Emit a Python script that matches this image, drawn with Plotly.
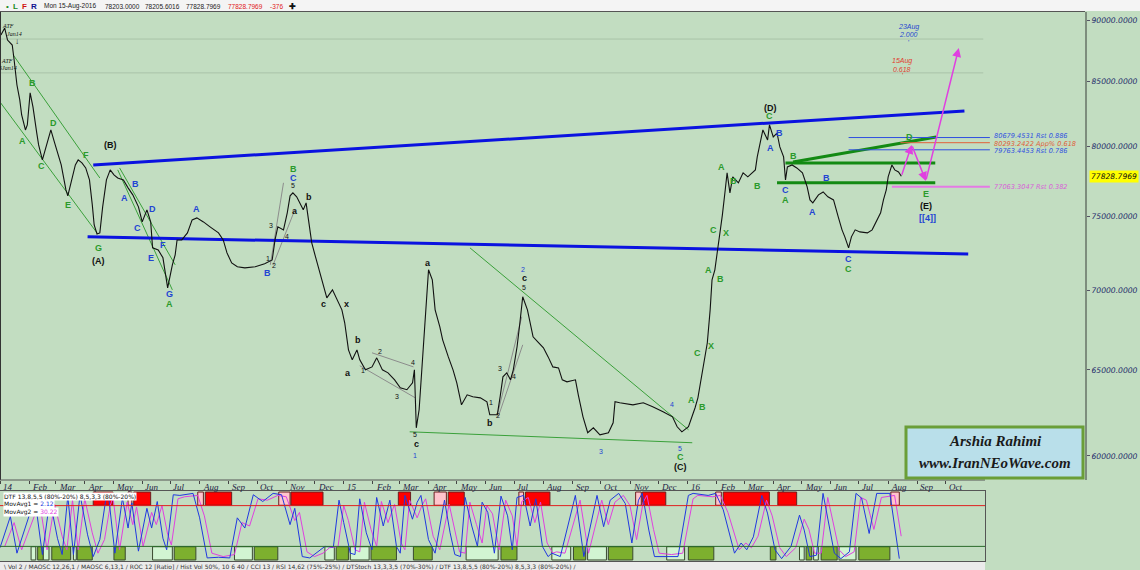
import math
import plotly.graph_objects as go

W, H = 1140, 570

# ---------------- price data (TEDPIX, daily closes) ----------------
price_dates = [
"2014-01-02","2014-01-06","2014-01-09","2014-01-14","2014-01-16","2014-01-19","2014-01-22","2014-01-24","2014-01-28","2014-01-30",
"2014-02-02","2014-02-05","2014-02-09","2014-02-11","2014-02-15","2014-02-18","2014-02-20","2014-02-24","2014-02-28","2014-03-04",
"2014-03-07","2014-03-09","2014-03-12","2014-03-14","2014-03-18","2014-03-22","2014-03-25","2014-03-29","2014-04-02","2014-04-06",
"2014-04-09","2014-04-11","2014-04-14","2014-04-17","2014-04-20","2014-04-24","2014-04-28","2014-05-02","2014-05-06","2014-05-12",
"2014-05-17","2014-05-22","2014-05-28","2014-06-01","2014-06-06","2014-06-10","2014-06-12","2014-06-18","2014-06-23","2014-06-28",
"2014-07-03","2014-07-06","2014-07-08","2014-07-13","2014-07-19","2014-07-24","2014-07-29","2014-08-05","2014-08-12","2014-08-21",
"2014-08-26","2014-08-30","2014-09-04","2014-09-10","2014-09-18","2014-09-29","2014-10-09","2014-10-17","2014-10-20","2014-10-23",
"2014-10-29","2014-11-02","2014-11-05","2014-11-08","2014-11-12","2014-11-16","2014-11-19","2014-11-22","2014-11-25","2014-11-28",
"2014-12-02","2014-12-05","2014-12-10","2014-12-14","2014-12-20","2014-12-25","2014-12-30",
"2015-01-02","2015-01-06","2015-01-10","2015-01-15","2015-01-18","2015-01-24","2015-01-31","2015-02-05","2015-02-11","2015-02-17",
"2015-02-24","2015-03-02","2015-03-09","2015-03-15","2015-03-17","2015-03-19","2015-03-22","2015-03-25","2015-03-28","2015-04-01",
"2015-04-05","2015-04-08","2015-04-13","2015-04-16","2015-04-22","2015-04-27","2015-05-01","2015-05-06","2015-05-12","2015-05-18",
"2015-05-26","2015-06-02","2015-06-05","2015-06-13","2015-06-16","2015-06-19","2015-06-23","2015-06-27","2015-06-30","2015-07-04",
"2015-07-07","2015-07-10","2015-07-15","2015-07-18","2015-07-21","2015-07-26","2015-08-01","2015-08-06","2015-08-11","2015-08-17",
"2015-08-21","2015-08-26","2015-09-04","2015-09-07","2015-09-12","2015-09-17","2015-09-23","2015-09-30","2015-10-09","2015-10-14",
"2015-10-16","2015-10-21","2015-11-04","2015-11-15","2015-11-25","2015-12-06","2015-12-16","2015-12-21","2015-12-26",
"2016-01-02","2016-01-06","2016-01-09","2016-01-12","2016-01-14","2016-01-18","2016-01-22","2016-01-25","2016-01-27","2016-01-30",
"2016-02-03","2016-02-07","2016-02-10","2016-02-12","2016-02-15","2016-02-18","2016-02-24","2016-02-29","2016-03-05","2016-03-13",
"2016-03-15","2016-03-18","2016-03-21","2016-03-26","2016-03-28","2016-04-01","2016-04-05","2016-04-08","2016-04-12","2016-04-14",
"2016-04-16","2016-04-21","2016-04-26","2016-05-02","2016-05-07","2016-05-10","2016-05-13","2016-05-19","2016-05-24","2016-05-29",
"2016-06-04","2016-06-09","2016-06-13","2016-06-16","2016-06-20","2016-06-23","2016-06-27","2016-07-02","2016-07-10","2016-07-15",
"2016-07-19","2016-07-24","2016-07-27","2016-07-30","2016-08-01","2016-08-05","2016-08-08","2016-08-12","2016-08-15"]
price_values = [
88750,89330,88340,87930,86710,84720,83550,82390,81250,81630,
84100,83010,81030,80130,79020,79750,80280,81250,80280,79240,
78650,77920,76840,76420,77560,78650,79020,78800,78430,77560,
75780,74380,73760,73830,75640,77560,78290,77920,77700,77560,
76990,76490,75640,74590,75430,74590,72810,72670,72140,70150,
71670,72340,73350,73350,73830,74730,74870,74590,74250,73830,
73350,72470,71800,71540,71470,71540,71740,72000,73350,74250,
74040,75220,76420,76630,76350,75780,75430,75920,74380,73150,
72200,71540,70480,69500,70020,69370,68730,
67910,66220,65610,66220,65610,65000,65180,65730,65000,64820,
64400,63920,63810,64220,65000,61590,62630,65000,67650,71340,
70680,68730,67650,66840,65790,65000,64220,62920,63510,63390,
63330,63100,62340,62340,63390,64580,64820,64400,65000,66410,
67910,69570,68730,67910,67030,66720,66350,65790,65180,65120,
64400,64280,64400,63510,62220,61310,61590,61190,61310,61880,
63100,63040,62920,63040,62810,62510,62220,61650,61360,
61650,62220,62750,63330,63980,65430,66660,68730,70680,71340,
73150,75080,76840,78070,76630,77780,77350,78070,77780,78290,
79240,80280,81250,80500,81630,80720,81020,79980,79240,77560,
78500,78650,78430,78070,77060,76130,75920,76490,76700,76350,
76130,74940,74040,73560,72810,73560,74040,73900,73830,74040,
74520,75220,76130,76840,77780,78650,78290,78140,77828.7969]
last_price = 77828.7969

# ---------------- drawn trend / channel lines (date, price pairs) ----------------
upper_blue_dates = ["2014-04-10", "2016-10-21"]
upper_blue_vals = [78650, 82700]
lower_blue_dates = ["2014-04-04", "2016-10-25"]
lower_blue_vals = [73560, 72400]

thin_green_dates = [["2014-01-01", "2014-04-14"], ["2014-01-15", "2014-04-17"],
                    ["2014-05-06", "2014-07-03"], ["2014-05-08", "2014-07-06"],
                    ["2015-05-15", "2016-01-02"], ["2015-03-12", "2016-01-06"]]
thin_green_vals = [[83390, 73830], [87120, 77700], [78290, 70020], [78430, 71670],
                   [72810, 61480], [61360, 60740]]

thin_gray_dates = [["2014-10-15", "2014-10-29"], ["2014-10-18", "2014-11-10"],
                   ["2015-01-18", "2015-03-18"], ["2015-01-31", "2015-03-16"],
                   ["2015-06-13", "2015-07-09"], ["2015-06-14", "2015-07-10"]]
thin_gray_vals = [[71670, 77350], [71670, 75430], [65250, 63330], [66040, 65180],
                  [62340, 68290], [62220, 66530]]

thick_green_dates = [["2016-04-14", "2016-09-20"], ["2016-04-05", "2016-09-20"], ["2016-04-22", "2016-09-21"]]
thick_green_vals = [[78800, 78800], [77350, 77350], [78870, 80720]]

fib_levels = [80679.4531, 80293.2422, 79763.4453, 77063.3047]
fib_tags = ["Rst 0.886", "App% 0.618", "Rst 0.786", "Rst 0.382"]
fib_start = ["2016-06-20", "2016-08-14", "2016-06-20", "2016-08-05"]
fib_end = "2016-11-17"
fib_colors = ["#2f4fe0", "#e0603a", "#2f4fe0", "#e47ae4"]
fib_label_nudge = [2, -1, -1, 0]

target_levels = [88420, 85680]
target_dates = ["2014-01-01", "2016-11-10"]

proj_dates = ["2016-08-15", "2016-08-26", "2016-09-10", "2016-10-15"]
proj_vals = [77828.7969, 80130, 77490, 87690]

# ---------------- oscillator (DTF) ----------------
osc_fast_dates = [
"2014-01-01","2014-01-12","2014-01-19","2014-02-07","2014-02-15","2014-02-23","2014-03-03","2014-03-08","2014-03-14","2014-03-20",
"2014-03-27","2014-04-04","2014-04-10","2014-04-17","2014-04-23","2014-04-26","2014-05-03","2014-05-11","2014-05-17","2014-05-21",
"2014-05-28","2014-06-06","2014-06-11","2014-06-17","2014-06-23","2014-06-27","2014-07-04","2014-07-11","2014-07-25","2014-08-01",
"2014-08-09","2014-08-21","2014-09-02","2014-09-10","2014-09-18","2014-09-27","2014-10-07","2014-10-18","2014-10-27","2014-11-05",
"2014-11-10","2014-11-18","2014-11-26","2014-12-05","2014-12-12","2014-12-21","2014-12-27","2015-01-01","2015-01-08","2015-01-13",
"2015-01-18","2015-01-25","2015-01-31","2015-02-05","2015-02-12","2015-02-19","2015-02-26","2015-03-02","2015-03-07","2015-03-15",
"2015-03-20","2015-03-24","2015-04-01","2015-04-08","2015-04-18","2015-04-24","2015-04-29","2015-05-05","2015-05-10","2015-05-17",
"2015-05-23","2015-05-28","2015-06-03","2015-06-10","2015-06-17","2015-06-24","2015-06-29","2015-07-04","2015-07-11","2015-07-18",
"2015-07-24","2015-07-31","2015-08-06","2015-08-10","2015-08-19","2015-09-04","2015-09-13","2015-09-27","2015-10-04","2015-10-11",
"2015-10-20","2015-10-27","2015-11-03","2015-11-10","2015-11-14","2015-11-21","2015-11-27","2015-12-10","2015-12-22","2016-01-02",
"2016-01-07","2016-01-23","2016-01-31","2016-02-08","2016-02-20","2016-02-27","2016-03-04","2016-03-11","2016-03-20","2016-03-26",
"2016-04-03","2016-04-10","2016-04-20","2016-04-29","2016-05-04","2016-05-10","2016-05-17","2016-05-24","2016-06-05","2016-06-12",
"2016-06-21","2016-06-28","2016-07-04","2016-07-12","2016-07-20","2016-08-03","2016-08-08","2016-08-13"]
osc_fast_vals = [
18,64,10,91,8,89,32,8,94,8,
96,37,5,30,86,98,10,91,47,84,
13,76,47,86,32,15,96,95,98,62,
3,4,3,62,47,96,86,98,96,52,
76,5,3,12,20,19,88,55,10,8,
90,40,15,92,50,88,20,10,95,60,
85,95,30,10,88,40,8,5,92,50,
20,85,70,10,94,65,15,92,95,50,
90,20,5,10,5,95,5,95,49,88,
98,83,25,88,98,44,5,5,5,95,
98,95,98,74,10,25,15,34,95,69,
15,2,20,66,44,5,7,98,10,2,
12,98,91,39,98,98,52,2]

osc_slow_dates = [
"2014-01-06","2014-01-16","2014-01-24","2014-02-12","2014-02-20","2014-02-28","2014-03-08","2014-03-13","2014-03-19","2014-03-25",
"2014-04-01","2014-04-09","2014-04-15","2014-04-22","2014-04-28","2014-05-01","2014-05-08","2014-05-16","2014-05-22","2014-05-26",
"2014-06-02","2014-06-11","2014-06-16","2014-06-22","2014-06-28","2014-07-02","2014-07-09","2014-07-16","2014-07-30","2014-08-06",
"2014-08-14","2014-08-26","2014-09-07","2014-09-15","2014-09-23","2014-10-02","2014-10-12","2014-10-23","2014-11-01","2014-11-10",
"2014-11-15","2014-11-23","2014-12-01","2014-12-10","2014-12-17","2014-12-26","2015-01-01","2015-01-06","2015-01-13","2015-01-18",
"2015-01-23","2015-01-30","2015-02-05","2015-02-10","2015-02-17","2015-02-24","2015-03-03","2015-03-07","2015-03-12","2015-03-20",
"2015-03-25","2015-03-29","2015-04-06","2015-04-13","2015-04-23","2015-04-29","2015-05-04","2015-05-10","2015-05-15","2015-05-22",
"2015-05-28","2015-06-02","2015-06-08","2015-06-15","2015-06-22","2015-06-29","2015-07-04","2015-07-09","2015-07-16","2015-07-23",
"2015-07-29","2015-08-05","2015-08-11","2015-08-15","2015-08-24","2015-09-09","2015-09-18","2015-10-02","2015-10-09","2015-10-16",
"2015-10-25","2015-11-01","2015-11-08","2015-11-15","2015-11-19","2015-11-26","2015-12-02","2015-12-15","2015-12-27","2016-01-07",
"2016-01-12","2016-01-28","2016-02-05","2016-02-13","2016-02-25","2016-03-03","2016-03-09","2016-03-16","2016-03-25","2016-03-31",
"2016-04-08","2016-04-15","2016-04-25","2016-05-04","2016-05-09","2016-05-15","2016-05-22","2016-05-29","2016-06-10","2016-06-17",
"2016-06-26","2016-07-03","2016-07-09","2016-07-17","2016-07-25","2016-08-08","2016-08-13","2016-08-15"]
osc_slow_vals = [
20,55,15,85,15,82,35,15,88,15,
90,40,10,30,80,92,15,85,52,78,
20,70,52,80,38,22,90,93,95,65,
10,5,8,55,50,90,88,95,93,58,
70,12,5,10,18,20,80,58,15,12,
85,45,20,86,55,82,25,15,88,62,
80,90,35,15,82,45,12,10,85,52,
25,80,68,15,88,65,20,86,92,55,
85,25,10,12,10,88,10,88,52,85,
95,80,30,85,95,45,10,8,10,90,
95,93,95,70,15,25,18,35,88,65,
18,5,18,60,45,10,10,92,15,5,
12,92,88,45,92,95,55,35]

top_bar_start = ["2014-04-10","2014-05-17","2014-05-23","2014-07-30","2014-08-07","2014-10-24","2014-11-06","2015-02-28","2015-04-07",
                 "2015-04-22","2015-07-06","2015-07-13","2015-11-07","2015-11-14","2016-01-31","2016-02-08","2016-04-06","2016-08-04"]
top_bar_end = ["2014-05-01","2014-05-21","2014-06-10","2014-08-05","2014-09-04","2014-11-05","2014-12-10","2015-03-13","2015-04-20",
               "2015-05-09","2015-07-11","2015-08-08","2015-11-13","2015-12-09","2016-02-06","2016-03-28","2016-04-26","2016-08-13"]
top_bar_kind = ["R","P","R","P","R","P","R","R","P","R","P","R","P","R","P","R","R","P"]

bot_bar_start = ["2014-02-03","2014-02-10","2014-02-16","2014-02-25","2014-03-20","2014-03-24","2014-05-02","2014-06-12","2014-07-05",
                 "2014-09-07","2014-09-28","2014-12-12","2014-12-24","2015-01-08","2015-01-30","2015-03-16","2015-05-11","2015-06-17",
                 "2015-08-10","2015-09-02","2015-09-17","2015-10-09","2015-12-10","2016-01-02","2016-03-29","2016-04-29","2016-05-06",
                 "2016-05-14","2016-05-22","2016-06-10","2016-07-01"]
bot_bar_end = ["2014-02-08","2014-02-16","2014-02-22","2014-03-17","2014-03-23","2014-04-09","2014-05-14","2014-07-03","2014-07-28",
               "2014-09-26","2014-10-23","2014-12-22","2015-01-06","2015-01-28","2015-02-26","2015-04-05","2015-06-14","2015-07-04",
               "2015-08-30","2015-09-15","2015-10-07","2015-11-04","2015-12-29","2016-01-29","2016-04-04","2016-05-04","2016-05-12",
               "2016-05-19","2016-06-08","2016-06-28","2016-08-03"]
bot_bar_kind = ["L","G","L","G","L","G","G","L","G","L","G","L","G","L","G","G","L","G","L","G","L","G","L","G","G","L","G","L","G","L","G"]

# ---------------- axis ticks ----------------
month_starts = ["2014-01-01","2014-02-01","2014-03-01","2014-04-01","2014-05-01","2014-06-01","2014-07-01","2014-08-01","2014-09-01",
                "2014-10-01","2014-11-01","2014-12-01","2015-01-01","2015-02-01","2015-03-01","2015-04-01","2015-05-01","2015-06-01",
                "2015-07-01","2015-08-01","2015-09-01","2015-10-01","2015-11-01","2015-12-01","2016-01-01","2016-02-01","2016-03-01",
                "2016-04-01","2016-05-01","2016-06-01","2016-07-01","2016-08-01","2016-09-01","2016-10-01"]
month_labels = ["14","Feb","Mar","Apr","May","Jun","Jul","Aug","Sep","Oct","Nov","Dec",
                "15","Feb","Mar","Apr","May","Jun","Jul","Aug","Sep","Oct","Nov","Dec",
                "16","Feb","Mar","Apr","May","Jun","Jul","Aug","Sep","Oct"]
price_ticks = [60000, 65000, 70000, 75000, 80000, 85000, 90000]

# ---------------- colours ----------------
BG = "#c2ddc1"
GREEN_T = "#2b9a2b"
BLUE_T = "#2244d4"
BLACK_T = "#111111"


def px(x, y):
    return x / W, 1 - y / H


fig = go.Figure()


def add_line(dates, vals, color, width, xa="x", ya="y", dash="solid"):
    fig.add_trace(go.Scatter(x=dates, y=vals, mode="lines", xaxis=xa, yaxis=ya,
                             line=dict(color=color, width=width, dash=dash),
                             hoverinfo="skip", showlegend=False))


for lv in target_levels:
    add_line(target_dates, [lv, lv], "#a9c3a8", 1)
for d, v in zip(thin_green_dates, thin_green_vals):
    add_line(d, v, "#3aa03a", 1)
for d, v in zip(thin_gray_dates, thin_gray_vals):
    add_line(d, v, "#8c8c8c", 1)
add_line(upper_blue_dates, upper_blue_vals, "#0a12e0", 3)
add_line(lower_blue_dates, lower_blue_vals, "#0a12e0", 3)
for d, v in zip(thick_green_dates, thick_green_vals):
    add_line(d, v, "#138a13", 3)
for lv, st, c in zip(fib_levels, fib_start, fib_colors):
    add_line([st, fib_end], [lv, lv], c, 2 if c == "#e47ae4" else 1)

fig.add_trace(go.Scatter(x=price_dates, y=price_values, mode="lines",
                         line=dict(color="#111111", width=1.1), xaxis="x", yaxis="y",
                         hoverinfo="skip", showlegend=False))

add_line(osc_slow_dates, osc_slow_vals, "#e040e0", 1, "x2", "y2")
add_line(osc_fast_dates, osc_fast_vals, "#2038e0", 1, "x2", "y2")

shapes = []
for s, e, k in zip(top_bar_start, top_bar_end, top_bar_kind):
    shapes.append(dict(type="rect", xref="x2", yref="y2", x0=s, x1=e, y0=80.5, y1=100,
                       fillcolor="#ff0000" if k == "R" else "#ffc4cc",
                       line=dict(color="#6a2020", width=1), layer="below"))
for s, e, k in zip(bot_bar_start, bot_bar_end, bot_bar_kind):
    shapes.append(dict(type="rect", xref="x2", yref="y2", x0=s, x1=e, y0=0, y1=19.5,
                       fillcolor="#7db02e" if k == "G" else "#d2f5d2",
                       line=dict(color="#3a4a30", width=1), layer="below"))
shapes.append(dict(type="line", xref="x2 domain", yref="y2", x0=0, x1=1, y0=80, y1=80,
                   line=dict(color="#e02020", width=1)))
shapes.append(dict(type="line", xref="x2 domain", yref="y2", x0=0, x1=1, y0=20, y1=20,
                   line=dict(color="#2a6a2a", width=1)))

shapes.append(dict(type="rect", xref="paper", yref="paper", x0=0, x1=1, y0=1 - 11 / H, y1=1,
                   fillcolor="#f4f4f4", line=dict(width=0)))
shapes.append(dict(type="line", xref="paper", yref="paper", x0=0, x1=1085 / W, y0=1 - 11.5 / H, y1=1 - 11.5 / H,
                   line=dict(color="#555555", width=1)))
shapes.append(dict(type="line", xref="paper", yref="paper", x0=0.5 / W, x1=0.5 / W, y0=1 - 480 / H, y1=1 - 12 / H,
                   line=dict(color="#333333", width=1)))
shapes.append(dict(type="line", xref="paper", yref="paper", x0=0, x1=985 / W, y0=1 - 480 / H, y1=1 - 480 / H,
                   line=dict(color="#555555", width=1)))
shapes.append(dict(type="rect", xref="paper", yref="paper", x0=0, x1=985 / W, y0=0, y1=1 - 562 / H,
                   fillcolor="#ebebeb", line=dict(width=0)))
shapes.append(dict(type="rect", xref="paper", yref="paper", x0=906 / W, x1=1083 / W, y0=1 - 478 / H, y1=1 - 427 / H,
                   fillcolor="#b9dfea", line=dict(color="#6a9e38", width=3)))

ann = []


def label(x, y, text, color, size=9, bold=True, italic=False, family="Liberation Sans", anchor="center", bg=None):
    ax, ay = px(x, y)
    t = f"<b>{text}</b>" if bold else text
    d = dict(xref="paper", yref="paper", x=ax, y=ay, text=t, showarrow=False,
             font=dict(color=color, size=size, family=family, style="italic" if italic else "normal"),
             xanchor=anchor, yanchor="middle")
    if bg:
        d["bgcolor"] = bg
        d["borderpad"] = 0
    ann.append(d)


G, B, K = GREEN_T, BLUE_T, BLACK_T
wave_labels = [
    ("B", 32, 83, G), ("A", 22, 141, G), ("D", 53, 123, G), ("C", 41, 166, G), ("F", 86, 155, G), ("E", 68, 205, G), ("G", 98, 248, G),
    ("(B)", 110, 145, K), ("(A)", 98, 261, K),
    ("B", 135, 184, B), ("A", 124, 198, B), ("D", 152, 209, B), ("C", 137, 228, B), ("F", 163, 245, B), ("E", 151, 258, B),
    ("G", 169, 294, B), ("A", 169, 304, G), ("A", 196, 209, B),
    ("B", 293, 169, G), ("C", 293, 178, B), ("b", 309, 197, K), ("a", 295, 211, K), ("B", 267, 273, B),
    ("c", 323, 304, K), ("x", 346, 304, K), ("b", 358, 340, K), ("a", 348, 373, K), ("c", 416, 444, K), ("a", 428, 263, K),
    ("b", 490, 423, K), ("c", 524, 278, K),
    ("C", 680, 457, G), ("(C)", 680, 467, K),
    ("A", 691, 400, G), ("B", 702, 407, G), ("C", 697, 353, G), ("X", 711, 346, G), ("A", 708, 270, G), ("B", 720, 279, G),
    ("C", 714, 230, G), ("X", 726, 233, G), ("A", 721, 167, G), ("B", 733, 181, G), ("B", 757, 186, G),
    ("(D)", 770, 108, K), ("C", 769, 116, G), ("A", 770, 148, B), ("B", 779, 133, B),
    ("B", 793, 156, G), ("C", 785, 190, B), ("A", 785, 200, G), ("B", 826, 178, B), ("A", 812, 212, B),
    ("C", 848, 259, B), ("C", 848, 269, G), ("D", 909, 137, G), ("E", 926, 194, G), ("(E)", 926, 206, K), ("[[4]]", 927, 218, B),
]
for t, x, y, c in wave_labels:
    label(x, y, t, c, size=9)

small_labels = [
    ("5", 293, 185, K), ("3", 271, 225, K), ("4", 287, 237, K), ("1", 268, 258, K), ("2", 274, 265, K),
    ("2", 380, 351, K), ("1", 363, 370, K), ("3", 397, 396, K), ("4", 413, 362, K), ("5", 415, 434, K), ("1", 415, 455, B),
    ("1", 491, 402, K), ("3", 500, 368, K), ("4", 514, 377, K), ("2", 498, 415, K),
    ("2", 523, 269, B), ("5", 524, 287, K), ("3", 601, 451, B), ("4", 672, 404, B), ("5", 680, 448, B),
]
for t, x, y, c in small_labels:
    label(x, y, t, c, size=7, bold=False)

label(8, 26, "ATF", K, size=6, bold=False, italic=True, family="Liberation Serif")
label(14, 34, "Jan14", K, size=6, bold=False, italic=True, family="Liberation Serif")
label(17, 41, "↓", K, size=8, bold=True)
label(7, 61, "ATF", K, size=6, bold=False, italic=True, family="Liberation Serif")
label(8, 68, "6Jan14", K, size=6, bold=False, italic=True, family="Liberation Serif")

label(908, 27, "23Aug", "#2848d0", size=7, bold=False, italic=True)
label(908, 35, "2.000", "#2848d0", size=7, bold=False, italic=True)
label(908, 42, "'", "#2848d0", size=7, bold=False)
label(902, 61, "15Aug", "#e04030", size=7, bold=False, italic=True)
label(902, 69, "0.618", "#e04030", size=7, bold=False, italic=True)
label(902, 76, "'", "#e04030", size=7, bold=False)

for lv, tag, c, nd in zip(fib_levels, fib_tags, fib_colors, fib_label_nudge):
    col = "#2f4fe0" if c == "#2f4fe0" else ("#e0603a" if c == "#e0603a" else "#d860d8")
    ann.append(dict(xref="x", yref="y", x=fib_end, y=math.log10(lv), text=f"{lv:.4f} {tag}", showarrow=False,
                    xanchor="left", yanchor="middle", xshift=2, yshift=nd,
                    font=dict(color=col, size=6.6, family="DejaVu Sans", style="italic")))

for i in range(len(proj_dates) - 1):
    ann.append(dict(xref="x", yref="y", x=proj_dates[i + 1], y=math.log10(proj_vals[i + 1]),
                    axref="x", ayref="y", ax=proj_dates[i], ay=math.log10(proj_vals[i]),
                    text="", showarrow=True, arrowhead=2, arrowsize=1.2, arrowwidth=1.5, arrowcolor="#e040e0"))

for d, t in zip(month_starts, month_labels):
    ann.append(dict(xref="x", yref="paper", x=d, y=1 - 487 / H, text=t, showarrow=False,
                    xanchor="left", yanchor="middle", xshift=1,
                    font=dict(family="Liberation Serif", size=9, color="#222244", style="italic")))

ann.append(dict(xref="paper", yref="y", x=1089 / W, y=math.log10(last_price), text="77828.7969", showarrow=False,
                xanchor="left", yanchor="middle", bgcolor="#ffff00", borderpad=1,
                font=dict(color="#111111", size=7.6, family="DejaVu Sans", style="italic")))

label(995, 441, "Arshia Rahimi", "#1a1a1a", size=15, bold=True, italic=True, family="Liberation Serif")
label(995, 463, "www.IranNEoWave.com", "#1a1a1a", size=15, bold=True, italic=True, family="Liberation Serif")

header = [(4, "•", "#1a8a1a"), (11, "L", "#1a8a1a"), (20, "F", "#d01010"), (29, "R", "#101090"),
          (42, "Mon 15-Aug-2016", "#222222"), (103, "78203.0000", "#222222"), (143, "78205.6016", "#222222"),
          (184, "77828.7969", "#222222"), (226, "77828.7969", "#e02020"), (268, "-376", "#e02020"), (287, "✚", "#111111")]
for x, t, c in header:
    label(x, 6, t, c, size=6.5 if len(t) > 1 else 8, bold=len(t) == 1 and t != "•", anchor="left",
          family="Liberation Sans")

label(3, 496, "DTF 13,8,5,5 (80%-20%) 8,5,3,3 (80%-20%)", "#111111", size=6, bold=False, anchor="left",
      family="DejaVu Sans", bg="#ffffff")
label(3, 504, "MovAvg1 = <span style='color:#2038e0'>2.12</span>", "#111111", size=6, bold=False, anchor="left",
      family="DejaVu Sans", bg="#ffffff")
label(3, 512, "MovAvg2 = <span style='color:#e040e0'>30.22</span>", "#111111", size=6, bold=False, anchor="left",
      family="DejaVu Sans", bg="#ffffff")

label(2, 566, "\\ Vol 2 / MAOSC 12,26,1 / MAOSC 6,13,1 / ROC 12 [Ratio] / Hist Vol 50%, 10 6 40 / CCI 13 / RSI 14,62 (75%-25%) "
              "/ DTStoch 13,3,3,5 (70%-30%) / DTF 13,8,5,5 (80%-20%) 8,5,3,3 (80%-20%) /",
      "#333333", size=6, bold=False, anchor="left", family="DejaVu Sans")

fig.update_layout(
    width=W, height=H, margin=dict(l=0, r=0, t=0, b=0),
    paper_bgcolor=BG, plot_bgcolor=BG, showlegend=False,
    shapes=shapes, annotations=ann,
    xaxis=dict(domain=[0, 1085 / W], range=["2014-01-01", "2017-02-26"], type="date",
               tickmode="array", tickvals=month_starts, showticklabels=False,
               ticks="outside", ticklen=3, tickcolor="#444444",
               showgrid=False, zeroline=False, showline=False, anchor="y"),
    yaxis=dict(domain=[1 - 480 / H, 1 - 12 / H], type="log",
               range=[math.log10(58671), math.log10(90672)],
               side="right", anchor="x", tickmode="array", tickvals=price_ticks,
               ticktext=[f"{v:.4f}" for v in price_ticks], ticks="outside", ticklen=3, tickcolor="#556",
               tickfont=dict(family="DejaVu Sans", size=7.6, color="#1e2a6a", style="italic"),
               showgrid=False, zeroline=False, showline=True, linecolor="#7d8d7d", linewidth=2),
    xaxis2=dict(domain=[0, 985 / W], range=["2014-01-01", "2016-11-12"], type="date", anchor="y2",
                showticklabels=False, ticks="", showgrid=False, zeroline=False,
                showline=True, mirror=True, linecolor="#555555", linewidth=1),
    yaxis2=dict(domain=[1 - 561 / H, 1 - 491 / H], range=[-1.5, 101.5], anchor="x2",
                showticklabels=False, ticks="", showgrid=False, zeroline=False,
                showline=True, mirror=True, linecolor="#555555", linewidth=1),
)

fig.write_html("out.html", config={"displayModeBar": False},
               post_script="document.body.style.margin='0';document.body.style.overflow='hidden';")
